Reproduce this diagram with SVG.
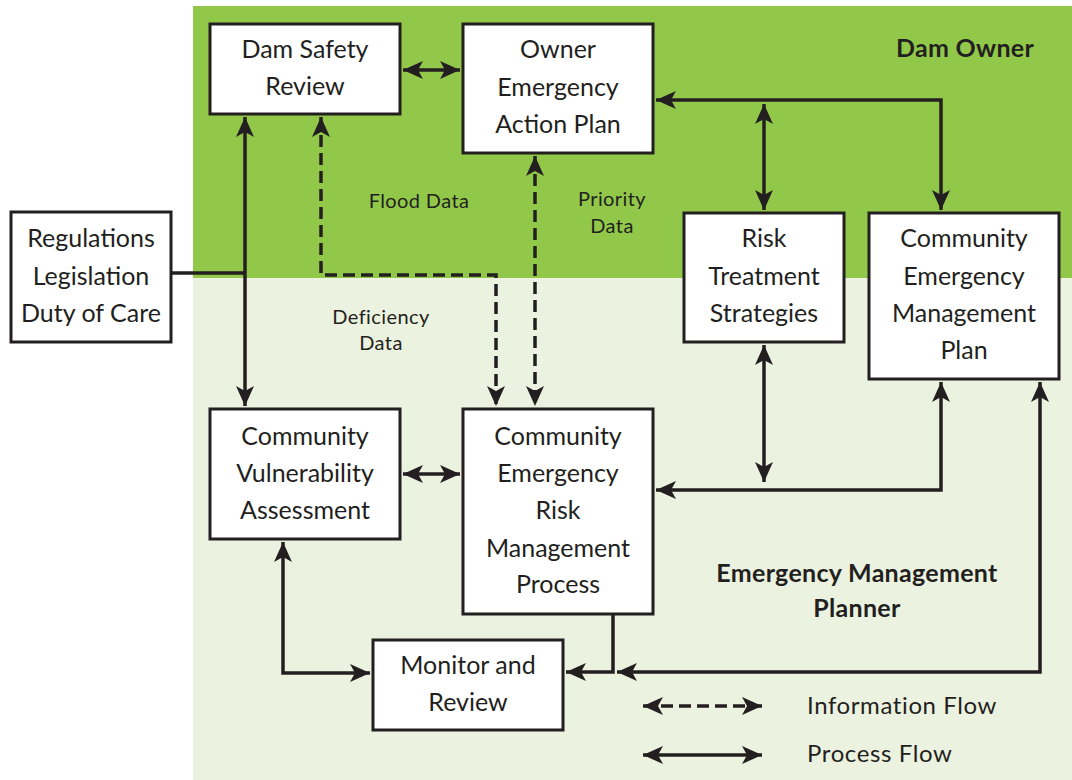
<svg xmlns="http://www.w3.org/2000/svg" width="1072" height="780" viewBox="0 0 1072 780">
<style>
.box{fill:#ffffff;stroke:#231f20;stroke-width:3}
.t{font-family:Lato,"Open Sans","Liberation Sans",sans-serif;font-size:25px;fill:#231f20;text-anchor:middle}
.s{font-family:Lato,"Open Sans","Liberation Sans",sans-serif;font-size:20px;fill:#231f20;text-anchor:middle;letter-spacing:0.4px}
.b{font-family:Lato,"Open Sans","Liberation Sans",sans-serif;font-size:25px;font-weight:bold;fill:#231f20;text-anchor:middle;letter-spacing:0.3px}
.lg{font-family:Lato,"Open Sans","Liberation Sans",sans-serif;font-size:24px;fill:#231f20;letter-spacing:0.6px}
.c{fill:none;stroke:#231f20;stroke-width:3.5}
.d{stroke-dasharray:12 6}
.a2{marker-start:url(#ah);marker-end:url(#ah)}
.ae{marker-end:url(#ah)}
</style>
<defs>
<marker id="ah" markerUnits="userSpaceOnUse" markerWidth="22" markerHeight="20" refX="20" refY="9" orient="auto-start-reverse" viewBox="0 0 22 18">
<path d="M0,0 L20,9 L0,18 L5,9 Z" fill="#231f20"/>
</marker>
</defs>
<rect x="0" y="0" width="1072" height="780" fill="#ffffff"/>
<rect x="193" y="6" width="879" height="272" fill="#92c84a"/>
<rect x="193" y="278" width="879" height="502" fill="#ebf2df"/>

<g id="labels">
<text class="b" x="965" y="57">Dam Owner</text>
<text class="b" x="857" y="582">Emergency Management</text>
<text class="b" x="857" y="617">Planner</text>
<text class="s" x="419" y="208">Flood Data</text>
<text class="s" x="612" y="206">Priority</text>
<text class="s" x="612" y="233">Data</text>
<text class="s" x="381" y="324">Deficiency</text>
<text class="s" x="381" y="350">Data</text>
</g>

<g id="connectors">
<path class="c a2" d="M403,70 H460"/>
<path class="c" d="M171,273 H245"/>
<path class="c a2" d="M245,117 V406"/>
<path class="c d a2" d="M321,117 V275 H496 V406"/>
<path class="c d a2" d="M535,156 V406"/>
<path class="c a2" d="M941,210 V100 H656"/>
<path class="c a2" d="M764,104 V210"/>
<path class="c a2" d="M764,345 V482"/>
<path class="c a2" d="M656,490 H941 V382"/>
<path class="c a2" d="M1040,382 V672 H617"/>
<path class="c ae" d="M613,614 V672 H566"/>
<path class="c a2" d="M283,542 V673 H370"/>
<path class="c a2" d="M403,474 H460"/>
</g>

<g id="legend">
<path class="c d a2" d="M643,706 H762"/>
<path class="c a2" d="M643,755 H762"/>
<text class="lg" x="807" y="714">Information Flow</text>
<text class="lg" x="807" y="762">Process Flow</text>
</g>

<g id="dam-safety-review">
<rect class="box" x="210" y="24" width="190" height="90"/>
<text class="t" x="305" y="58">Dam Safety</text>
<text class="t" x="305" y="95">Review</text>
</g>
<g id="owner-eap">
<rect class="box" x="463" y="24" width="190" height="129"/>
<text class="t" x="558" y="58">Owner</text>
<text class="t" x="558" y="96">Emergency</text>
<text class="t" x="558" y="133">Action Plan</text>
</g>
<g id="regulations">
<rect class="box" x="11" y="212" width="160" height="130"/>
<text class="t" x="91" y="247">Regulations</text>
<text class="t" x="91" y="285">Legislation</text>
<text class="t" x="91" y="322">Duty of Care</text>
</g>
<g id="risk-treatment">
<rect class="box" x="684" y="213" width="160" height="129"/>
<text class="t" x="764" y="247">Risk</text>
<text class="t" x="764" y="285">Treatment</text>
<text class="t" x="764" y="322">Strategies</text>
</g>
<g id="cemp">
<rect class="box" x="869" y="213" width="190" height="166"/>
<text class="t" x="964" y="247">Community</text>
<text class="t" x="964" y="285">Emergency</text>
<text class="t" x="964" y="322">Management</text>
<text class="t" x="964" y="359">Plan</text>
</g>
<g id="cva">
<rect class="box" x="210" y="409" width="190" height="130"/>
<text class="t" x="305" y="445">Community</text>
<text class="t" x="305" y="482">Vulnerability</text>
<text class="t" x="305" y="519">Assessment</text>
</g>
<g id="cermp">
<rect class="box" x="463" y="409" width="190" height="205"/>
<text class="t" x="558" y="445">Community</text>
<text class="t" x="558" y="482">Emergency</text>
<text class="t" x="558" y="519">Risk</text>
<text class="t" x="558" y="557">Management</text>
<text class="t" x="558" y="593">Process</text>
</g>
<g id="monitor-review">
<rect class="box" x="373" y="640" width="190" height="90"/>
<text class="t" x="468" y="674">Monitor and</text>
<text class="t" x="468" y="711">Review</text>
</g>
</svg>
